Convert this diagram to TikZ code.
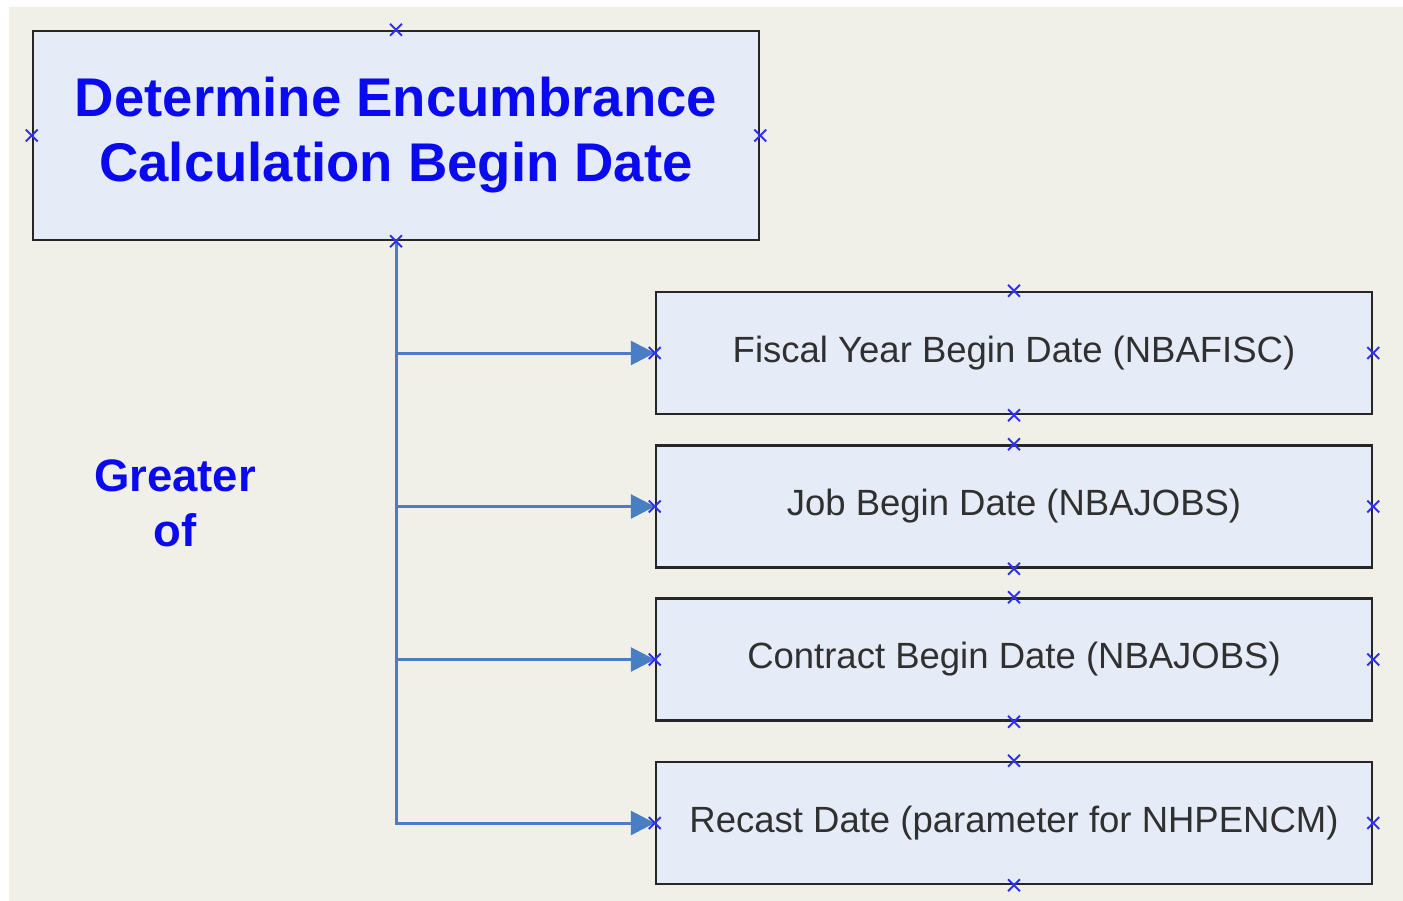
\documentclass[tikz,border=0pt]{standalone}
\usepackage{fontspec}
\setmainfont{Liberation Sans}
\usetikzlibrary{arrows.meta,shapes.misc}
\definecolor{bgc}{HTML}{F0F0E8}
\definecolor{boxfill}{HTML}{E6ECF7}
\definecolor{titleblue}{HTML}{0A0AF0}
\definecolor{conncol}{HTML}{4A7EC4}
\definecolor{mkcol}{HTML}{3030F0}
\definecolor{txtgrey}{HTML}{303030}
\tikzset{
  bigbox/.style={draw=black!85, line width=2.5pt, fill=boxfill, minimum width=726pt, minimum height=209pt, inner sep=0pt, align=center, text=titleblue, font=\bfseries\fontsize{54.5}{65}\selectfont},
  itembox/.style={draw=black!85, line width=2.5pt, fill=boxfill, minimum width=716pt, minimum height=122pt, inner sep=0pt, text=txtgrey, font=\fontsize{36.5}{42}\selectfont},
  conn/.style={draw=conncol, line width=3pt, -{Triangle[length=24pt,width=24pt]}},
  xmk/.style={cross out, draw=mkcol, line width=1.8pt, minimum size=10pt, inner sep=0pt},
  sidelabel/.style={text=titleblue, align=center, font=\bfseries\fontsize{45.5}{55}\selectfont}
}
\begin{document}
\begin{tikzpicture}[x=1pt,y=-1pt]
\useasboundingbox (0,0) rectangle (1403,901);
\fill[bgc] (9,7) rectangle (1403,901);
\node[bigbox] (top) at (396,135.5) {Determine Encumbrance\\Calculation Begin Date};
\node[itembox] (b1) at (1014,353) {Fiscal Year Begin Date (NBAFISC)};
\node[itembox] (b2) at (1014,506.5) {Job Begin Date (NBAJOBS)};
\node[itembox] (b3) at (1014,659.5) {Contract Begin Date (NBAJOBS)};
\node[itembox] (b4) at (1014,823) {Recast Date (parameter for NHPENCM)};
\node[sidelabel] (lbl) at (175,503) {Greater\\of};
\draw[conn] (top.south) |- (b1.west);
\draw[conn] (top.south) |- (b2.west);
\draw[conn] (top.south) |- (b3.west);
\draw[conn] (top.south) |- (b4.west);
\foreach \n in {top,b1,b2,b3,b4}{
  \node[xmk] at (\n.north) {};
  \node[xmk] at (\n.south) {};
  \node[xmk] at (\n.west) {};
  \node[xmk] at (\n.east) {};
}
\end{tikzpicture}
\end{document}
